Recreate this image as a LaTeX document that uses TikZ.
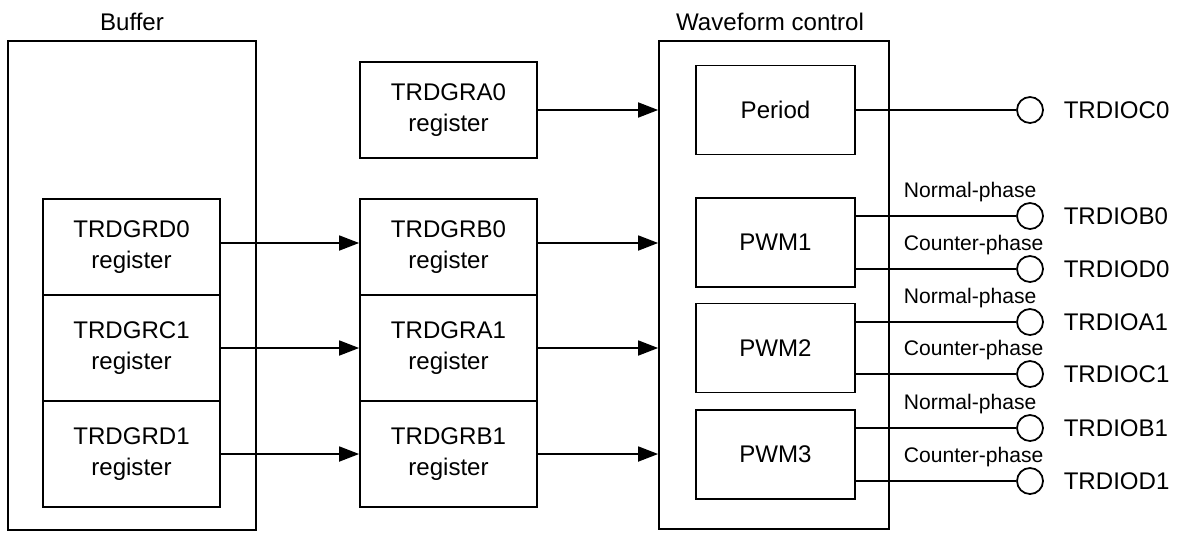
\documentclass[tikz,border=0pt]{standalone}
\usepackage{fontspec}
\setmainfont{Liberation Sans}
\usetikzlibrary{positioning,arrows.meta}

\begin{document}
\begin{tikzpicture}[line width=1pt,
		reg/.style={draw, minimum width=3.54cm, align=center, font={\fontsize{13.7}{17.6}\selectfont}},
		unit/.style={draw, minimum width=3.18cm, minimum height=1.78cm, font={\fontsize{13.7}{17.6}\selectfont}},
		port/.style={draw, circle, minimum size=0.52cm, inner sep=0pt},
		portname/.style={inner sep=0pt, font={\fontsize{13.7}{17.6}\selectfont}},
		phase/.style={inner sep=0pt, anchor=south west, font={\fontsize{12}{14}\selectfont}},
		arr/.style={-{Triangle[length=0.4cm,width=0.3cm]}}]

		\useasboundingbox (0,0) rectangle (23.68,-10.68);

		% outer frames
		\node (buf) at (2.64,-5.71) [draw, minimum width=4.96cm, minimum height=9.78cm] {};
		\node (buftitle) at (2.64,-0.44) [font={\fontsize{13.7}{17.6}\selectfont}] {Buffer};
		\node (wave) at (15.48,-5.7) [draw, minimum width=4.6cm, minimum height=9.76cm] {};
		\node (wavetitle) at (15.4,-0.44) [font={\fontsize{13.7}{17.6}\selectfont}] {Waveform control};

		% buffer registers
		\node (gd0) at (2.63,-4.94) [reg, minimum height=1.92cm] {TRDGRD0\\register};
		\node (gc1) at (2.63,-6.96) [reg, minimum height=2.12cm] {TRDGRC1\\register};
		\node (gd1) at (2.63,-9.08) [reg, minimum height=2.12cm] {TRDGRD1\\register};

		% general registers
		\node (ga0) at (8.97,-2.2) [reg, minimum height=1.92cm] {TRDGRA0\\register};
		\node (gb0) at (8.97,-4.94) [reg, minimum height=1.92cm] {TRDGRB0\\register};
		\node (ga1) at (8.97,-6.96) [reg, minimum height=2.12cm] {TRDGRA1\\register};
		\node (gb1) at (8.97,-9.08) [reg, minimum height=2.12cm] {TRDGRB1\\register};

		\draw[arr] (gd0.east) ++(0,0.08) coordinate (gd0out) -- (gd0out -| gb0.west);
		\draw[arr] (gc1) -- (ga1);
		\draw[arr] (gd1) -- (gb1);

		\draw[arr] (ga0) -- (ga0 -| wave.west);
		\draw[arr] (gb0.east) ++(0,0.08) coordinate (gb0out) -- (gb0out -| wave.west);
		\draw[arr] (ga1) -- (ga1 -| wave.west);
		\draw[arr] (gb1) -- (gb1 -| wave.west);

		% waveform units
		\node (period) at (15.51,-2.2) [unit] {Period};
		\node (pwm1) at (15.51,-4.85) [unit] {PWM1};
		\node (pwm2) at (15.51,-6.96) [unit] {PWM2};
		\node (pwm3) at (15.51,-9.09) [unit] {PWM3};

		% output pins
		\node (c0) at (20.6,-2.2) [port] {};
		\node (b0) at (20.6,-4.32) [port] {};
		\node (d0) at (20.6,-5.38) [port] {};
		\node (a1) at (20.6,-6.44) [port] {};
		\node (c1) at (20.6,-7.48) [port] {};
		\node (b1) at (20.6,-8.56) [port] {};
		\node (d1) at (20.6,-9.62) [port] {};

		\node (c0name) [portname, right=0.38cm of c0] {TRDIOC0};
		\node (b0name) [portname, right=0.38cm of b0] {TRDIOB0};
		\node (d0name) [portname, right=0.38cm of d0] {TRDIOD0};
		\node (a1name) [portname, right=0.38cm of a1] {TRDIOA1};
		\node (c1name) [portname, right=0.38cm of c1] {TRDIOC1};
		\node (b1name) [portname, right=0.38cm of b1] {TRDIOB1};
		\node (d1name) [portname, right=0.38cm of d1] {TRDIOD1};

		\draw (period) -- (c0);
		\draw (b0) -- (b0 -| pwm1.east);
		\draw (d0) -- (d0 -| pwm1.east);
		\draw (a1) -- (a1 -| pwm2.east);
		\draw (c1) -- (c1 -| pwm2.east);
		\draw (b1) -- (b1 -| pwm3.east);
		\draw (d1) -- (d1 -| pwm3.east);

		\node (b0phase) at (18.06,-4.06) [phase] {Normal-phase};
		\node (d0phase) at (18.06,-5.12) [phase] {Counter-phase};
		\node (a1phase) at (18.06,-6.18) [phase] {Normal-phase};
		\node (c1phase) at (18.06,-7.22) [phase] {Counter-phase};
		\node (b1phase) at (18.06,-8.30) [phase] {Normal-phase};
		\node (d1phase) at (18.06,-9.36) [phase] {Counter-phase};

\end{tikzpicture}
\end{document}
